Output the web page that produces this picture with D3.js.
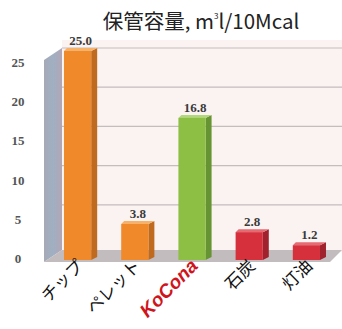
<!DOCTYPE html>
<html><head><meta charset="utf-8">
<script src="https://cdn.jsdelivr.net/npm/d3@7"></script>
<style>body{margin:0;background:#fff}svg{display:block}</style>
</head><body><svg id="c" width="342" height="329"></svg>
<script>
const categories = ["チップ","ペレット","KoCona","石炭","灯油"];
const values = [25.0, 3.8, 16.8, 2.8, 1.2];
const valueLabels = ["25.0","3.8","16.8","2.8","1.2"];
const yTicks = [0,5,10,15,20,25];
const barColors = ["#f0892a","#f0892a","#8dbf45","#d6303c","#d6303c"];
const sideColors = ["#c06a20","#c06a20","#679432","#a0222c","#a0222c"];
const topColors = ["#f7b26a","#f7b26a","#b3d77c","#e66a72","#e66a72"];

const svg = d3.select("#c");
const yLab = d3.scaleLinear().domain([0,25]).range([259,63]);
const yBar = d3.scaleLinear().domain([0,25]).range([255,51]);
const x = d3.scaleBand().domain(categories).range([52,338]).paddingInner(0.42).paddingOuter(0.21);

// back wall
svg.append("rect").attr("x",62).attr("y",40).attr("width",280).attr("height",212).attr("fill","#faf3f2");
// gridlines on back wall
svg.selectAll("line.g").data(yTicks.slice(1)).enter().append("line")
  .attr("x1",62).attr("x2",342)
  .attr("y1",d=>yLab(d)-15).attr("y2",d=>yLab(d)-15)
  .attr("stroke","#c4bdbd").attr("stroke-width",1.2);
// left wall
const lw = d3.select("#c").append("defs").append("linearGradient").attr("id","lw");
lw.append("stop").attr("offset","0").attr("stop-color","#a7a9b6");
lw.append("stop").attr("offset","0.5").attr("stop-color","#9fb0c2");
lw.append("stop").attr("offset","1").attr("stop-color","#b3a6b5");
svg.append("polygon").attr("points",`44,60 62,48 62,250 44,262`).attr("fill","url(#lw)");
// floor
svg.append("polygon").attr("points",`44,262 62,250 342,250 330,262`).attr("fill","#c2bcbe");

// bars
const w = x.bandwidth();
const depth = 6;
const g = svg.selectAll("g.bar").data(categories).enter().append("g");
g.append("polygon").attr("points",(d,i)=>{
  const x0=x(d)+w-depth, y0=yBar(values[i]);
  return `${x0},${y0} ${x0+depth},${y0-3} ${x0+depth},257 ${x0},260`;
}).attr("fill",(d,i)=>sideColors[i]);
g.append("polygon").attr("points",(d,i)=>{
  const x0=x(d), y0=yBar(values[i]);
  return `${x0},${y0} ${x0+3},${y0-3} ${x0+w},${y0-3} ${x0+w-depth},${y0}`;
}).attr("fill",(d,i)=>topColors[i]);
g.append("rect").attr("x",d=>x(d)).attr("y",(d,i)=>yBar(values[i]))
  .attr("width",w-depth).attr("height",(d,i)=>260-yBar(values[i]))
  .attr("fill",(d,i)=>barColors[i]);

// value labels
svg.selectAll("text.v").data(categories).enter().append("text")
  .attr("x",d=>x(d)+w/2).attr("y",(d,i)=>yBar(values[i])-6)
  .attr("text-anchor","middle").attr("font-family","Liberation Serif, DejaVu Serif, serif")
  .attr("font-weight","bold").attr("font-size",13).attr("fill","#3a3a3a")
  .text((d,i)=>valueLabels[i]);

// y tick labels
svg.selectAll("text.y").data(yTicks).enter().append("text")
  .attr("x",18).attr("y",d=>yLab(d)+4).attr("text-anchor","middle")
  .attr("font-family","Liberation Serif, DejaVu Serif, serif").attr("font-weight","bold")
  .attr("font-size",13).attr("fill","#555").text(d=>d);

// category labels
svg.selectAll("text.c").data(categories).enter().append("text")
  .attr("transform",d=>`translate(${x(d)+w/2+4},267) rotate(-45)`)
  .attr("text-anchor","end")
  .attr("font-family", d=>d==="KoCona" ? "Liberation Sans Narrow, Liberation Sans, Arial, sans-serif" : "Noto Sans CJK JP, sans-serif")
  .attr("font-size",d=>d==="KoCona"?19:17)
  .attr("font-weight",d=>d==="KoCona"?"bold":"normal")
  .attr("font-style",d=>d==="KoCona"?"italic":"normal")
  .attr("fill",d=>d==="KoCona"?"#d0141c":"#111")
  .text(d=>d);

// title
const t = svg.append("text").attr("x",201).attr("y",29).attr("text-anchor","middle")
  .attr("font-family","Noto Sans CJK JP, sans-serif").attr("font-size",20.5).attr("fill","#222");
t.append("tspan").text("保管容量, m");
t.append("tspan").attr("font-size",8).attr("dy",-10).text("3");
t.append("tspan").attr("dy",10).text("l/10Mcal");
</script></body></html>
